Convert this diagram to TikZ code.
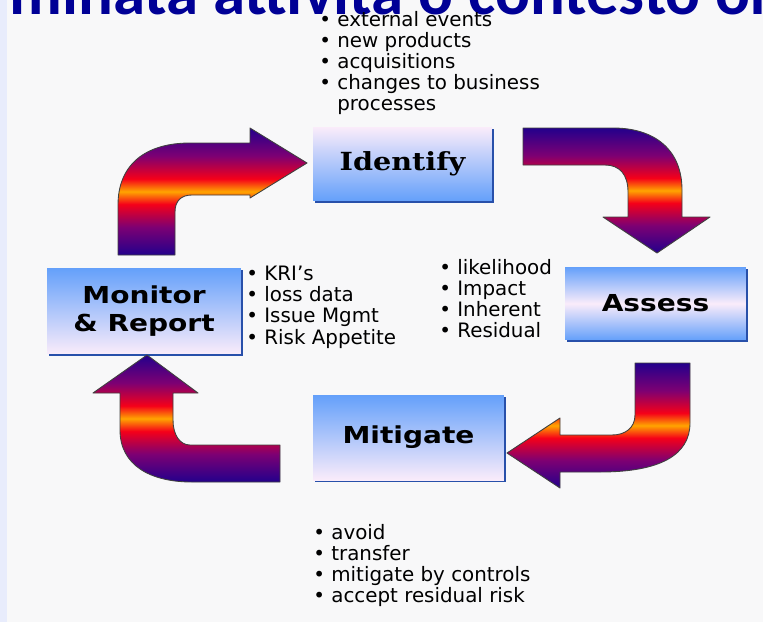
\documentclass[tikz,border=0pt]{standalone}
\usepackage{fontspec}
\setmainfont{DejaVu Sans}
\newfontfamily\titlefont{Carlito}
\newfontfamily\boxfont[FakeStretch=1.2]{DejaVu Sans}
\newfontfamily\idfont[FakeStretch=1.15]{DejaVu Serif}
\usetikzlibrary{shadows}

\definecolor{bggray}{RGB}{248,248,249}
\definecolor{stripblue}{RGB}{232,236,252}
\definecolor{titleblue}{RGB}{0,0,150}
\definecolor{boxblue}{RGB}{100,160,250}
\definecolor{boxpink}{RGB}{250,236,250}
\definecolor{boxedge}{RGB}{40,80,170}
\definecolor{arrnavy}{RGB}{35,0,140}
\definecolor{arrpurple}{RGB}{125,0,115}
\definecolor{arrred}{RGB}{245,0,25}
\definecolor{arrorange}{RGB}{255,165,0}

% colour bands of the block arrows
\pgfdeclareverticalshading{arrowshade}{100bp}{color(0bp)=(arrnavy); color(25bp)=(arrnavy);
  color(36bp)=(arrpurple); color(45bp)=(arrred); color(50bp)=(arrorange);
  color(55bp)=(arrred); color(64bp)=(arrpurple); color(75bp)=(arrnavy); color(100bp)=(arrnavy)}

\tikzset{
  stepbox/.style={inner sep=0pt,
    drop shadow={shadow xshift=1.2pt,shadow yshift=-1.2pt,fill=boxedge,opacity=1},
    font=\boxfont\bfseries\fontsize{13.3}{16.4}\selectfont},
  bigarrow/.style={draw=black!75,line width=0.5pt,shade,shading=arrowshade,line join=round},
  bullets/.style={inner sep=0pt,anchor=north west,align=left,
    font=\fontsize{11.3}{12}\selectfont},
}

\begin{document}
\begin{tikzpicture}[x=0.02cm,y=-0.02cm]
\useasboundingbox (0,0) rectangle (763,622);
\fill[bggray] (0,0) rectangle (763,622);
\fill[stripblue] (0,0) rectangle (7,622);
\node[anchor=base west,inner sep=0pt,text=titleblue,
  font=\titlefont\bfseries\fontsize{37}{40}\selectfont] (title) at (9,14) {minata attività o contesto or};

% the four steps
\node[stepbox,top color=boxpink,bottom color=boxblue,minimum width=3.58cm,minimum height=1.48cm,
  font=\idfont\bfseries\fontsize{14.2}{16}\selectfont] (identify) at (402.5,164) {Identify};
\node[stepbox,top color=boxblue,bottom color=boxblue,middle color=boxpink,
  minimum width=3.62cm,minimum height=1.46cm] (assess) at (655.5,303.5) {Assess};
\node[stepbox,top color=boxblue,bottom color=boxpink,minimum width=3.82cm,minimum height=1.7cm] (mitigate) at (408.5,437.5) {Mitigate};
\node[stepbox,top color=boxblue,bottom color=boxpink,minimum width=3.88cm,minimum height=1.72cm,
  align=center] (monitor) at (144,311) {Monitor\\\& Report};

% bent arrows
\draw[bigarrow] (118,255) -- (118,205) .. controls (118,165) and (145,143) .. (190,143) -- (250,143)
  -- (250,128) -- (307,163) -- (250,198) -- (250,195) -- (192,195)
  .. controls (181,195) and (175,201) .. (175,212) -- (175,255) -- cycle;
\draw[bigarrow] (523,128) -- (613,128) .. controls (655,128) and (682,150) .. (682,190) -- (682,217)
  -- (710,217) -- (657,253) -- (603,217) -- (628,217) -- (628,192)
  .. controls (628,175) and (620,165) .. (605,165) -- (523,165) -- cycle;
\draw[bigarrow] (635,363) -- (690,363) -- (690,423) .. controls (690,455) and (660,472) .. (600,472)
  -- (560,472) -- (560,488) -- (507,453) -- (560,418) -- (560,435) -- (612,435)
  .. controls (625,435) and (635,428) .. (635,415) -- cycle;
\draw[bigarrow] (280,445) -- (190,445) .. controls (180,445) and (173,435) .. (173,420) -- (173,393)
  -- (198,393) -- (147,355) -- (93,393) -- (120,393) -- (120,430)
  .. controls (120,465) and (150,482) .. (192,482) -- (280,482) -- cycle;

% notes
\node[bullets] (identifynotes) at (319,11) {• external events\\• new products\\• acquisitions\\• changes to business\\\hphantom{• }processes};
\node[bullets] (monitornotes) at (246,266) {• KRI’s\\• loss data\\• Issue Mgmt\\• Risk Appetite};
\node[bullets] (assessnotes) at (439,259) {• likelihood\\• Impact\\• Inherent\\• Residual};
\node[bullets] (mitigatenotes) at (313,524) {• avoid\\• transfer\\• mitigate by controls\\• accept residual risk};
\end{tikzpicture}
\end{document}
